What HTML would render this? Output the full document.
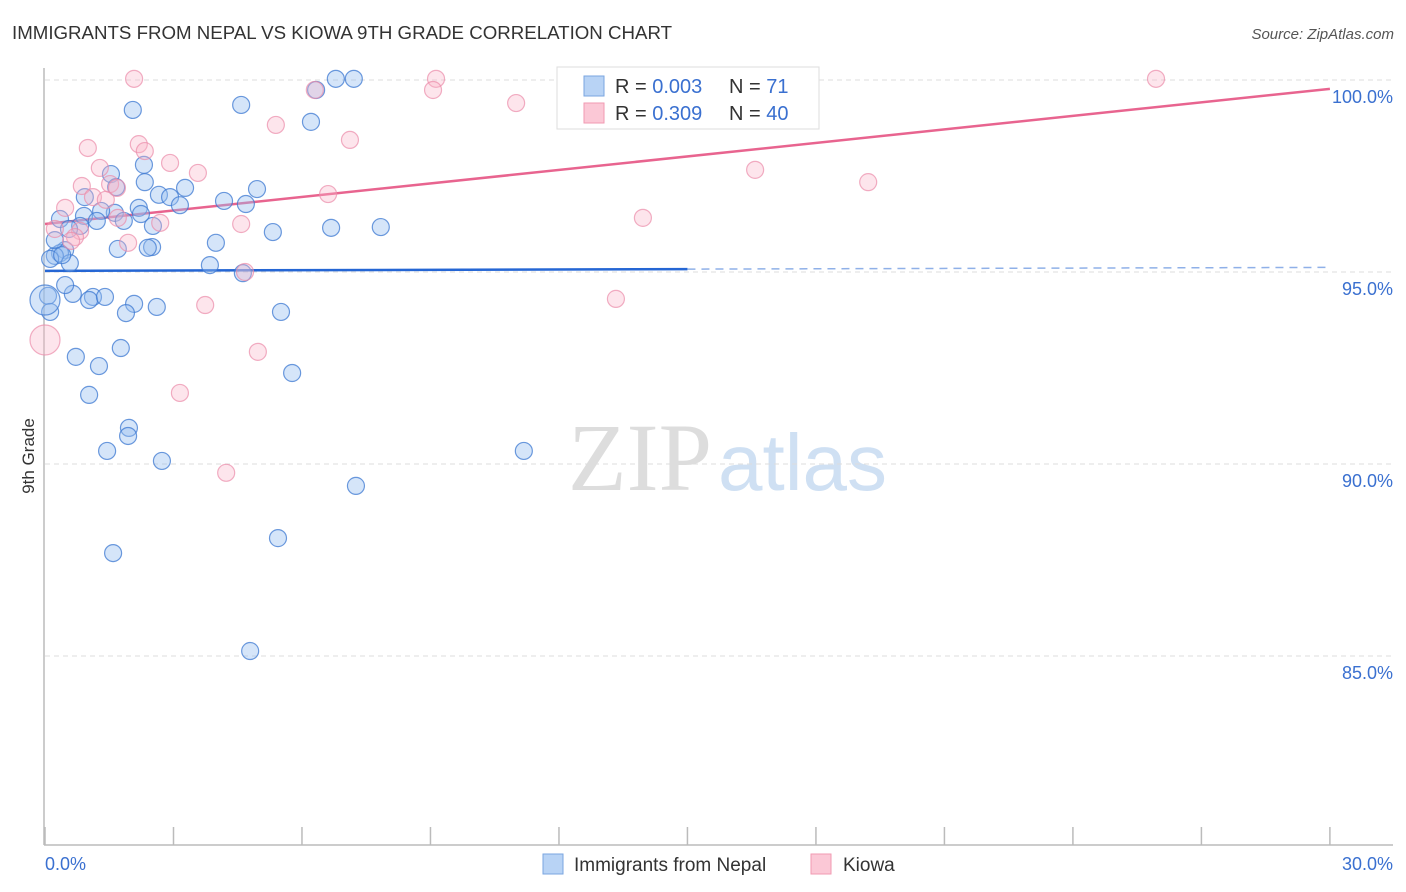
<!DOCTYPE html>
<html><head><meta charset="utf-8">
<style>
body{margin:0;background:#fff;font-family:"Liberation Sans",sans-serif;}
#wrap{position:relative;width:1406px;height:892px;overflow:hidden;}
</style></head>
<body>
<div id="wrap">
<svg id="svg" width="1406" height="892" xmlns="http://www.w3.org/2000/svg">
<text x="12" y="39" font-size="18.7" fill="#333">IMMIGRANTS FROM NEPAL VS KIOWA 9TH GRADE CORRELATION CHART</text>
<text x="1394" y="39" font-size="15" fill="#555" font-style="italic" text-anchor="end">Source: ZipAtlas.com</text>
<text x="34" y="456" font-size="17" fill="#333" text-anchor="middle" transform="rotate(-90 34 456)">9th Grade</text>
<g>
<text x="712" y="490" font-size="96" fill="#ddd" font-family="Liberation Serif,serif" text-anchor="end">ZIP</text>
<text x="718" y="490" font-size="80" fill="#cfe0f3">atlas</text>
</g>
<g id="grid"></g>
<g id="axes"></g>
<g id="lines"></g>
<g id="pts"></g>
<g>
<rect x="557" y="67" width="262" height="62" fill="#fff" stroke="#ddd"/>
<rect x="584" y="76" width="20" height="20" fill="#b8d3f5" stroke="#7aa6e0"/>
<rect x="584" y="103" width="20" height="20" fill="#fbc8d6" stroke="#f09ab2"/>
<text x="615" y="93" font-size="20" fill="#333">R = <tspan fill="#3a70d0">0.003</tspan></text>
<text x="729" y="93" font-size="20" fill="#333">N = <tspan fill="#3a70d0"> 71</tspan></text>
<text x="615" y="120" font-size="20" fill="#333">R = <tspan fill="#3a70d0">0.309</tspan></text>
<text x="729" y="120" font-size="20" fill="#333">N = <tspan fill="#3a70d0">40</tspan></text>
</g>
<g>
<rect x="543" y="854" width="20" height="20" fill="#b8d3f5" stroke="#7aa6e0"/>
<text x="574" y="871" font-size="19" fill="#333">Immigrants from Nepal</text>
<rect x="811" y="854" width="20" height="20" fill="#fbc8d6" stroke="#f09ab2"/>
<text x="843" y="871" font-size="19" fill="#333">Kiowa</text>
</g>
</svg>
</div>
<script>
const yTicks=[100,95,90,85];
const yTickLabels=["100.0%","95.0%","90.0%","85.0%"];
const xTickCount=[0,3,6,9,12,15,18,21,24,27,30];
const xEndLabels=["0.0%","30.0%"];
const nepalX=[2.05,4.58,6.21,6.79,7.21,6.33,1.54,2.31,2.33,1.66,0.93,2.66,3.27,4.95,2.92,3.15,4.18,4.69,2.19,2.24,1.63,1.31,0.91,1.21,0.35,1.84,2.52,0.82,0.56,5.32,6.68,7.84,3.99,2.50,2.40,1.70,0.47,0.35,0.23,0.12,0.58,3.85,4.62,0.07,0.65,1.12,1.03,1.40,0.47,0.12,2.08,2.61,1.89,5.51,1.77,0.72,1.26,5.77,1.03,1.96,1.94,1.45,2.73,11.18,7.26,1.59,5.44,4.79,0.23,0.40,0.00];
const nepalY=[99.22,99.35,98.91,100.03,100.03,99.74,97.55,97.79,97.34,97.21,96.95,97.01,97.19,97.16,96.95,96.74,96.85,96.77,96.67,96.51,96.54,96.59,96.46,96.33,96.38,96.33,96.20,96.20,96.12,96.04,96.15,96.17,95.76,95.65,95.63,95.60,95.57,95.49,95.42,95.34,95.23,95.18,94.97,94.38,94.43,94.35,94.27,94.35,94.66,93.96,94.17,94.09,93.93,93.96,93.02,92.79,92.55,92.37,91.80,90.94,90.73,90.34,90.08,90.34,89.43,87.68,88.07,85.13,95.83,95.44,94.27];
const kiowaX=[2.08,6.30,9.13,9.06,11.00,16.23,25.94,5.39,2.19,7.12,1.00,2.33,2.92,1.28,3.57,16.58,19.22,0.86,1.52,1.68,1.12,6.61,1.42,0.47,1.70,2.69,4.58,13.96,0.23,0.82,0.70,0.61,1.94,4.67,13.33,3.74,4.97,3.15,4.23,0.00];
const kiowaY=[100.03,99.74,100.03,99.74,99.40,100.03,100.03,98.83,98.33,98.44,98.23,98.15,97.84,97.71,97.58,97.66,97.34,97.24,97.29,97.19,96.95,97.03,96.88,96.67,96.41,96.28,96.25,96.41,96.12,96.07,95.91,95.81,95.76,95.00,94.30,94.14,92.92,91.85,89.77,93.23];
const nepalTrend=[95.03,95.12];
const kiowaTrend=[96.25,99.77];
const NS="http://www.w3.org/2000/svg";
function sx(v){return 45+v*42.83;}
function sy(v){return 80+(100-v)*38.4;}
function mk(tag,attrs,parent){const e=document.createElementNS(NS,tag);for(const k in attrs)e.setAttribute(k,attrs[k]);parent.appendChild(e);return e;}
const grid=document.getElementById('grid'),axes=document.getElementById('axes'),lines=document.getElementById('lines'),pts=document.getElementById('pts');
yTicks.forEach((t,i)=>{
 const l=mk('line',{x1:45,x2:1393,y1:sy(t),y2:sy(t),stroke:'#ddd','stroke-dasharray':'5,4'},grid);
 
 
 const tx=mk('text',{x:1393,y:sy(t)+23,'font-size':18,fill:'#3a70d0','text-anchor':'end'},axes);
 tx.textContent=yTickLabels[i];
 
 
});
const ya=mk('line',{x1:44,x2:44,y1:68,y2:845,stroke:'#bbb','stroke-width':1.5},axes);


const xa=mk('line',{x1:44,x2:1393,y1:845,y2:845,stroke:'#bbb','stroke-width':1.5},axes);


xTickCount.forEach(t=>{
 const l=mk('line',{x1:sx(t),x2:sx(t),y1:827,y2:845,stroke:'#bbb','stroke-width':1.5},axes);
 
 
});
const xl0=mk('text',{x:45,y:870,'font-size':18,fill:'#3a70d0'},axes);xl0.textContent=xEndLabels[0];


const xl1=mk('text',{x:1393,y:870,'font-size':18,fill:'#3a70d0','text-anchor':'end'},axes);xl1.textContent=xEndLabels[1];


function drawPts(xs,ys,fill,stroke,name){
 xs.forEach((x,i)=>{
  const big=(x===0);
  const c=mk('circle',{cx:sx(x),cy:sy(ys[i]),r:big?15:8.5,fill:fill,stroke:stroke,'stroke-width':1.2},pts);
  
  
 });
}
drawPts(nepalX,nepalY,'rgba(150,190,240,0.4)','rgba(60,120,210,0.75)','nepal-point');
drawPts(kiowaX,kiowaY,'rgba(248,180,200,0.35)','rgba(235,140,170,0.7)','kiowa-point');
const nMid=nepalTrend[0]+(nepalTrend[1]-nepalTrend[0])*0.5;
const b1=mk('line',{x1:sx(0),y1:sy(nepalTrend[0]),x2:sx(15),y2:sy(nMid),stroke:'#2566d4','stroke-width':2.5},lines);


const b2=mk('line',{x1:sx(15),y1:sy(nMid),x2:sx(30),y2:sy(nepalTrend[1]),stroke:'#8fb0e8','stroke-width':1.5,'stroke-dasharray':'8,6'},lines);


const p1=mk('line',{x1:sx(0),y1:sy(kiowaTrend[0]),x2:sx(30),y2:sy(kiowaTrend[1]),stroke:'#e8648f','stroke-width':2.5},lines);


</script>
</body></html>
